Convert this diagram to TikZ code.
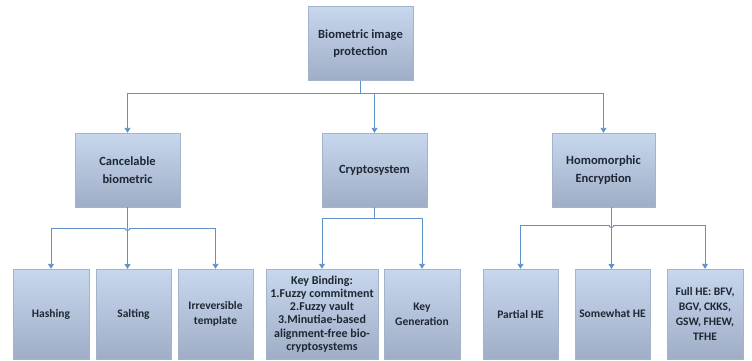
\documentclass[tikz,border=0pt]{standalone}
\usepackage{fontspec}
\setmainfont{Carlito}
\usetikzlibrary{arrows.meta,calc}
\definecolor{boxtop}{HTML}{C7D7EE}
\definecolor{boxbot}{HTML}{9FAEC6}
\definecolor{boxedge}{HTML}{A3B3CA}
\definecolor{linec}{HTML}{5E92C8}
\definecolor{txt}{HTML}{1E2733}
\tikzset{
  box/.style={draw=boxedge, line width=0.4pt, top color=boxtop, bottom color=boxbot,
    minimum width=#1, align=center, inner sep=2pt, text=txt, font=\bfseries},
  bigbox/.style={box=105pt, minimum height=74pt, font=\bfseries\fontsize{12.5}{17.5}\selectfont},
  smallbox/.style={box=#1, minimum height=90pt, font=\bfseries\fontsize{11.5}{15}\selectfont},
  conn/.style={draw=linec, line width=0.9pt},
  arr/.style={conn, -{Triangle[length=5pt,width=6pt]}},
}
\begin{document}
\begin{tikzpicture}[x=1pt,y=-1pt]
\useasboundingbox (0,0) rectangle (752,361);
% boxes
\node[bigbox] (top) at (360.5,43.5) {Biometric image\\protection};
\node[bigbox] (cancel) at (127.5,170) {Cancelable\\biometric};
\node[bigbox] (crypto) at (374.5,170) {Cryptosystem};
\node[bigbox, minimum width=103pt] (homo) at (603.5,170) {Homomorphic\\Encryption};
\node[smallbox=76pt] (hash) at (51,314) {Hashing};
\node[smallbox=75pt] (salt) at (133.5,314) {Salting};
\node[smallbox=75pt] (irr) at (215.5,314) {Irreversible\\template};
\node[smallbox=112pt, font=\bfseries\fontsize{12}{13.3}\selectfont] (kb) at (322,314) {Key Binding:\\1.Fuzzy commitment\\2.Fuzzy vault\\3.Minutiae-based\\alignment-free bio-\\cryptosystems};
\node[smallbox=76pt] (kg) at (422,314) {Key\\Generation};
\node[smallbox=75pt] (phe) at (520.5,314) {Partial HE};
\node[smallbox=75pt] (swhe) at (612.5,314) {Somewhat HE};
\node[smallbox=76pt] (fhe) at (705,314) {Full HE: BFV,\\BGV, CKKS,\\GSW, FHEW,\\TFHE};
% top level connectors
\coordinate (tj) at (top.south |- 0,93);
\draw[conn] (top.south) -- (tj);
\draw[arr] (tj) -| (cancel.north);
\draw[arr] (tj) -| (homo.north);
\draw[arr] (crypto.north |- tj) -- (crypto.north);
% cancelable
\coordinate (cs) at (127.5,207);
\coordinate (ch1) at (125,228);
\coordinate (ch2) at (130,228);
\coordinate (cend) at (127.5,269);
\draw[arr] (cs) -- (cend);
\draw[arr] (ch1) -| (hash.north);
\draw[conn] (ch1) arc[start angle=180,end angle=0,radius=2.5];
\draw[arr] (ch2) -| (irr.north);
% cryptosystem
\coordinate (kj) at (crypto.south |- 0,218);
\draw[conn] (crypto.south) -- (kj);
\draw[arr] (kj) -| (kb.north);
\draw[arr] (kj) -| (kg.north);
% homomorphic
\coordinate (hs) at (611.5,207);
\coordinate (hh1) at (609,225);
\coordinate (hh2) at (614,225);
\coordinate (hend) at (611.5,269);
\draw[arr] (hs) -- (hend);
\draw[arr] (hh1) -| (phe.north);
\draw[conn] (hh1) arc[start angle=180,end angle=0,radius=2.5];
\draw[arr] (hh2) -| (fhe.north);
\end{tikzpicture}
\end{document}
